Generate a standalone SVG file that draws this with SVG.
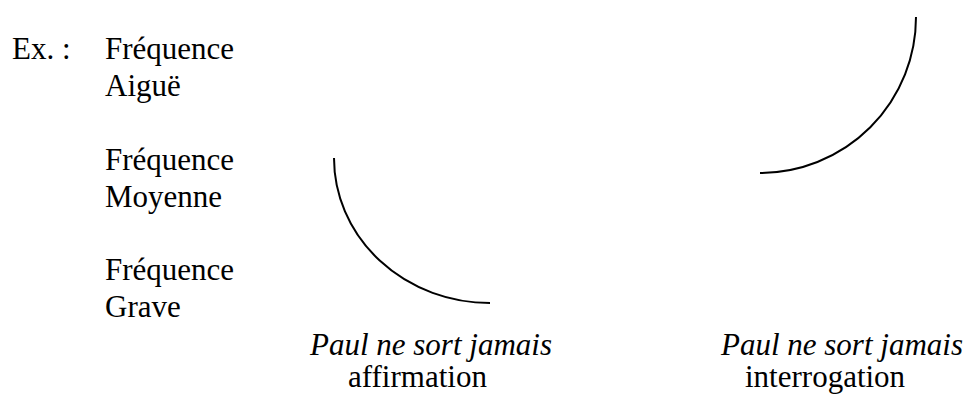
<svg xmlns="http://www.w3.org/2000/svg" width="969" height="394" viewBox="0 0 969 394">
<style>
.t{font-size:31px;fill:#000}
.it{font-style:italic}
.arc{fill:none;stroke:#000;stroke-width:2}
</style>
<rect width="969" height="394" fill="#fff"/>
<g id="labels" font-family="Liberation Serif, DejaVu Serif, serif" class="t">
<text x="12" y="59">Ex. :</text>
<text x="105" y="59">Fréquence</text>
<text x="105" y="96">Aiguë</text>
<text x="105" y="170">Fréquence</text>
<text x="105" y="207">Moyenne</text>
<text x="105" y="280">Fréquence</text>
<text x="105" y="317">Grave</text>
</g>
<g id="curves">
<path class="arc" d="M334,158 A156,145 0 0 0 490,303"/>
<path class="arc" d="M916,17 A156,156 0 0 1 760,173"/>
</g>
<g id="captions" font-family="Liberation Serif, DejaVu Serif, serif" class="t">
<text class="it" x="310" y="355">Paul ne sort jamais</text>
<text x="348" y="387">affirmation</text>
<text class="it" x="721" y="355">Paul ne sort jamais</text>
<text x="745" y="387">interrogation</text>
</g>
</svg>
